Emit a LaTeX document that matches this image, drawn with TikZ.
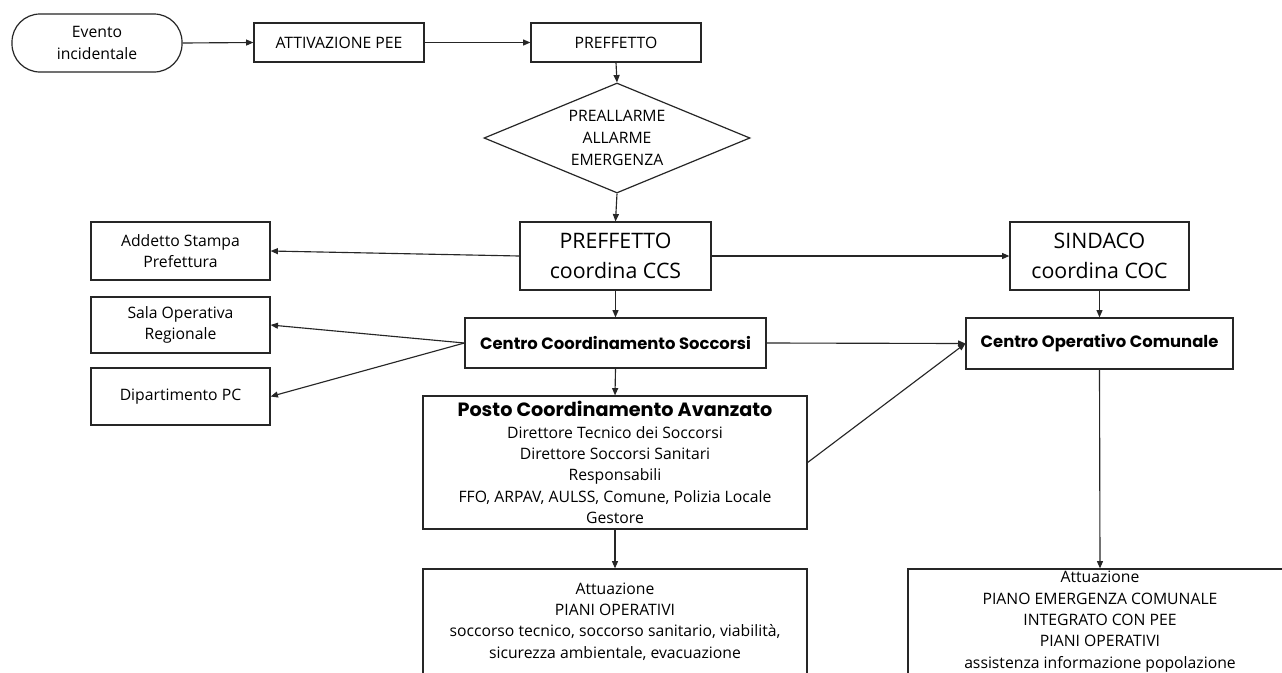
\documentclass[tikz,border=0pt]{standalone}
\usepackage{fontspec}
\setmainfont{Open Sans}
\newfontfamily\geo{Poppins}[BoldFont={* Bold}]
\usetikzlibrary{shapes.geometric,arrows.meta}
\begin{document}
\begin{tikzpicture}[x=0.75pt,y=-0.75pt,
  every node/.style={font=\fontsize{11.8}{16}\selectfont, align=center, inner sep=0pt},
  box/.style={draw=black!85, line width=0.9pt, rectangle},
  big/.style={font=\fontsize{16}{22}\selectfont},
  bld/.style={font=\geo\bfseries\fontsize{12.3}{16}\selectfont},
  conn/.style={draw=black!85, line width=0.85pt, -{Triangle[length=5.5pt,width=4.5pt]}}
]
\useasboundingbox (0,0) rectangle (1282,672);
\clip (0,0) rectangle (1282,672);
\fill[white] (0,0) rectangle (1282,672);

\node[box, rounded corners=21pt, minimum width=127.5pt, minimum height=43.5pt] (ev) at (97,43) {Evento\\incidentale};
\node[box, minimum width=127.5pt, minimum height=29.25pt] (att) at (339,42.5) {ATTIVAZIONE PEE};
\node[box, minimum width=127.5pt, minimum height=29.25pt] (pref) at (616,42.5) {PREFFETTO};
\node[draw=black!85, line width=0.9pt, shape=diamond, aspect=2.42, minimum width=199.5pt, minimum height=82.5pt, font=\fontsize{11.8}{16.5}\selectfont] (dia) at (617,138) {PREALLARME\\ALLARME\\EMERGENZA};

\node[box, big, minimum width=143.25pt, minimum height=51pt] (pccs) at (615.5,256) {PREFFETTO\\coordina CCS};
\node[box, minimum width=134.25pt, minimum height=43.5pt] (addetto) at (180.5,251) {Addetto Stampa\\Prefettura};
\node[box, big, minimum width=134.25pt, minimum height=51pt] (sind) at (1099.5,256) {SINDACO\\coordina COC};

\node[box, bld, minimum width=225.75pt, minimum height=37.5pt] (ccs) at (615.5,343) {Centro Coordinamento Soccorsi};
\node[box, minimum width=134.25pt, minimum height=42pt] (sala) at (180.5,325) {Sala Operativa\\Regionale};
\node[box, minimum width=134.25pt, minimum height=42.75pt] (dip) at (180.5,396.5) {Dipartimento PC};
\node[box, bld, minimum width=200.25pt, minimum height=38.25pt] (coc) at (1099.5,343.5) {Centro Operativo Comunale};

\node[box, minimum width=288pt, minimum height=99.75pt] (pca) at (615,462.5) {{\geo\bfseries\fontsize{14.4}{16}\selectfont Posto Coordinamento Avanzato}\\Direttore Tecnico dei Soccorsi\\Direttore Soccorsi Sanitari\\Responsabili\\FFO, ARPAV, AULSS, Comune, Polizia Locale\\Gestore};

\node[box, minimum width=288pt, minimum height=78.75pt] (attl) at (615,621.5) {Attuazione\\PIANI OPERATIVI\\soccorso tecnico, soccorso sanitario, viabilità,\\sicurezza ambientale, evacuazione};
\node[box, minimum width=288pt, minimum height=78.75pt] (attr) at (1100,621.5) {Attuazione\\PIANO EMERGENZA COMUNALE\\INTEGRATO CON PEE\\PIANI OPERATIVI\\assistenza informazione popolazione};

\draw[conn] (ev.east) -- (att.west);
\draw[conn] (att.east) -- (pref.west);
\draw[conn] (pref.south) -- (dia.north);
\draw[conn] (dia.south) -- (pccs.north);
\draw[conn] (pccs.west) -- (addetto.east);
\draw[conn] (pccs.east) -- (sind.west);
\draw[conn] (pccs.south) -- (ccs.north);
\draw[conn] (sind.south) -- (coc.north);
\draw[conn] (ccs.west) -- (sala.east);
\draw[conn] (ccs.west) -- (dip.east);
\draw[conn] (ccs.east) -- (coc.west);
\draw[conn] (pca.east) -- (coc.west);
\draw[conn] (ccs.south) -- (pca.north);
\draw[conn] (pca.south) -- (attl.north);
\draw[conn] (coc.south) -- (attr.north);
\end{tikzpicture}
\end{document}
